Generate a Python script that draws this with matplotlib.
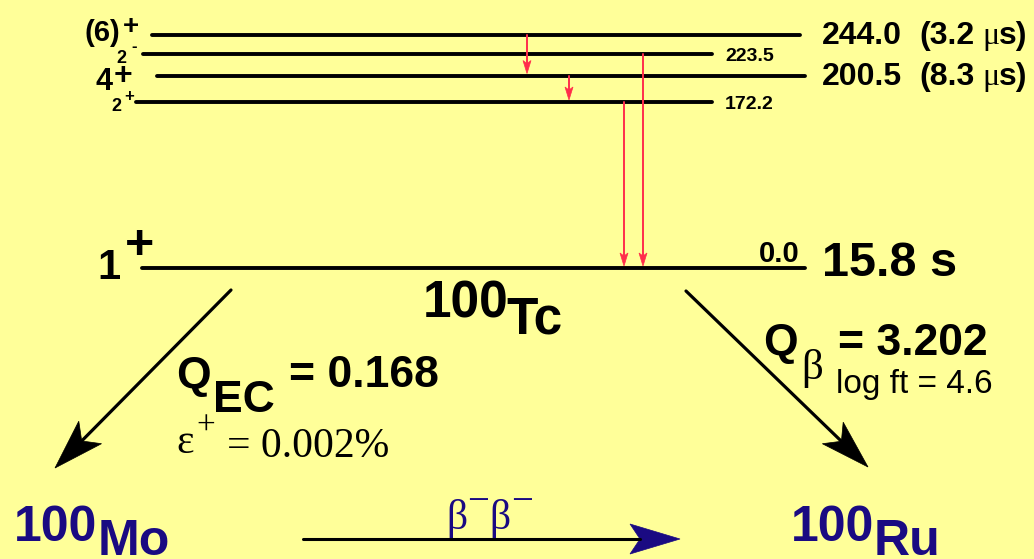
import numpy as np
import matplotlib
matplotlib.use("Agg")
import matplotlib.pyplot as plt
from matplotlib.patches import Polygon

# level scheme of 100Tc
LEVEL_E = [244.0, 223.5, 200.5, 172.2, 0.0]
LEVEL_SPIN = ['(6)', '2', '4', '2', '1']
LEVEL_PARITY = ['+', '-', '+', '+', '+']
ISOMER_E = [244.0, 200.5]
ISOMER_T_US = [3.2, 8.3]
GROUND_T = '15.8 s'

GAMMA_FROM = [244.0, 200.5, 172.2, 223.5]
GAMMA_TO = [200.5, 172.2, 0.0, 0.0]

Q_EC = 0.168
EPS_PLUS = 0.002
Q_BETA = 3.202
LOG_FT = 4.6

PARENT = ('100', 'Tc')
DAUGHTER_EC = ('100', 'Mo')
DAUGHTER_B = ('100', 'Ru')

# layout (pixel space)
LEVEL_X0 = [152, 143, 157, 136, 142]
LEVEL_X1 = [800, 712, 805, 712, 805]
GAMMA_X = [527, 569, 624, 643]

BG = '#ffff99'
RED = '#ff2d4b'
NAVY = '#1a0a82'
SANS = 'Liberation Sans'
SERIF = 'Liberation Serif'


def level_y(e):
    # broken scale: ground state drawn well below the excited band
    if e == 0:
        return 268
    return 102 - (e - 172.2) * 0.935


def notched_arrow(ax, p0, p1, lw, line_c, head_c, head_len, half_w, notch):
    p0 = np.asarray(p0, float)
    p1 = np.asarray(p1, float)
    u = (p1 - p0) / np.linalg.norm(p1 - p0)
    n = np.array([-u[1], u[0]])
    base = p1 - u * head_len
    mid = p1 - u * (head_len - notch)
    ax.plot([p0[0], mid[0]], [p0[1], mid[1]], color=line_c, lw=lw,
            solid_capstyle='round')
    ax.add_patch(Polygon([p1, base + n * half_w, mid, base - n * half_w],
                         closed=True, fc=head_c, ec=head_c, lw=0.5))


def txt(x, y, s, size, weight='bold', family=SANS, color='black', ha='left'):
    ax.text(x, y, s, fontsize=size, fontweight=weight, family=family,
            color=color, ha=ha, va='baseline')


fig = plt.figure(figsize=(10.34, 5.59), dpi=100, facecolor=BG)
ax = fig.add_axes([0, 0, 1, 1])
ax.set_xlim(0, 1034)
ax.set_ylim(559, 0)
ax.set_facecolor(BG)
ax.axis('off')

# levels
for i, e in enumerate(LEVEL_E):
    y = level_y(e)
    ax.plot([LEVEL_X0[i], LEVEL_X1[i]], [y, y], color='black', lw=2.8,
            solid_capstyle='round')

# spin / parity labels
y = level_y(244.0)
txt(85, y + 6, LEVEL_SPIN[0], 21)
txt(123, y - 1, LEVEL_PARITY[0], 20)
y = level_y(223.5)
txt(116, y + 9, LEVEL_SPIN[1], 13)
txt(131, y - 3, LEVEL_PARITY[1], 12)
y = level_y(200.5)
txt(96, y + 14, LEVEL_SPIN[2], 22)
txt(114, y + 8, LEVEL_PARITY[2], 23)
y = level_y(172.2)
txt(111, y + 9, LEVEL_SPIN[3], 13)
txt(124, y - 1, LEVEL_PARITY[3], 12)
y = level_y(0.0)
txt(97, y + 11, LEVEL_SPIN[4], 30)
txt(125, y - 9, LEVEL_PARITY[4], 36)

# energies and half-lives
for e, t in zip(ISOMER_E, ISOMER_T_US):
    y = level_y(e) + 9
    txt(822, y, f'{e:.1f}', 23)
    txt(919, y, f'({t:.1f}', 23)
    txt(982, y, '\u03bc', 23, weight='normal', family=SERIF)
    txt(999, y, 's)', 23)
for e in (223.5, 172.2):
    txt(725, level_y(e) + 7, f'{e:.1f}', 14)
y = level_y(0.0)
txt(800, y - 6, f'{0.0:.1f}', 21, ha='right')
txt(822, y + 8, GROUND_T, 35)

# gamma transitions
for e0, e1, x in zip(GAMMA_FROM, GAMMA_TO, GAMMA_X):
    notched_arrow(ax, (x, level_y(e0)), (x, level_y(e1) - 2), 1.4, RED, RED,
                  head_len=13, half_w=4, notch=3)

# parent nucleus
txt(423, 318, PARENT[0], 37)
txt(506, 334, PARENT[1], 37)

# EC branch
notched_arrow(ax, (231, 290), (55, 468), 2.3, 'black', 'black',
              head_len=50, half_w=16, notch=12)
txt(176, 388, 'Q', 32)
txt(213, 412, 'EC', 32)
txt(289, 387, f'= {Q_EC:.3f}', 32)
txt(176, 453, '\u03b5', 30, weight='normal', family=SERIF)
txt(196, 435, '+', 24, weight='normal', family=SERIF)
txt(227, 457, f'= {EPS_PLUS:.3f}%', 30, weight='normal', family=SERIF)

# beta- branch
notched_arrow(ax, (686, 291), (868, 467), 2.3, 'black', 'black',
              head_len=49, half_w=15, notch=12)
txt(763, 355, 'Q', 32)
txt(801, 379, '\u03b2', 31, weight='normal', family=SERIF)
txt(838, 355, f'= {Q_BETA:.3f}', 32)
txt(836, 393, f'log ft = {LOG_FT}', 24, weight='normal')

# double beta decay between the daughters
txt(14, 541, DAUGHTER_EC[0], 36, color=NAVY)
txt(98, 555, DAUGHTER_EC[1], 36, color=NAVY)
txt(791, 541, DAUGHTER_B[0], 36, color=NAVY)
txt(874, 555, DAUGHTER_B[1], 36, color=NAVY)
notched_arrow(ax, (303, 539), (680, 539), 2.2, 'black', NAVY,
              head_len=50, half_w=15, notch=10)
for xb, xm in ((446, 467), (489, 511)):
    txt(xb, 529, '\u03b2', 30, weight='normal', family=SERIF, color=NAVY)
    txt(xm, 512, '\u2212', 28, weight='normal', family=SERIF, color=NAVY)

fig.savefig('out.png', dpi=100, facecolor=BG)
